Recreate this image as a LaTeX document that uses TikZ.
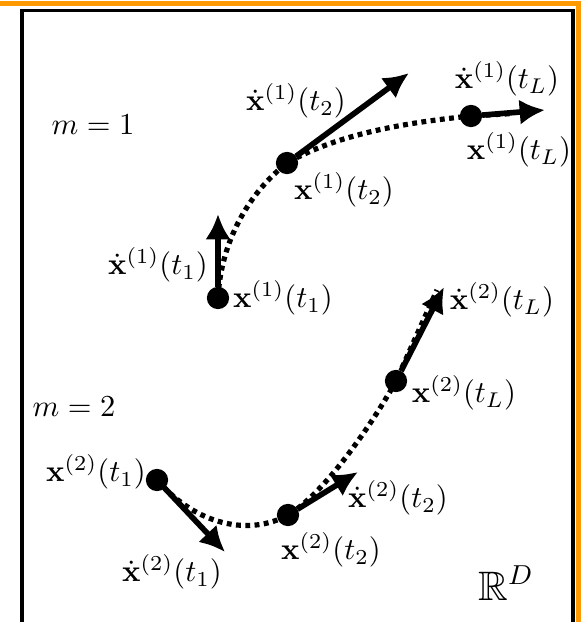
\documentclass[tikz,border=0pt]{standalone}
\usepackage{amsmath,amssymb}
\usetikzlibrary{positioning,arrows.meta}
\definecolor{frameorange}{RGB}{255,153,0}
\def\bx{\mathbf x}
\def\dbx{\dot{\mathbf x}}
\tikzset{bdot/.style={draw,circle,fill=black,minimum size=6.9pt,inner sep=0pt}  }
\tikzset{vel/.style={-{Latex[length=8.3pt,width=8.3pt]},line width=1.85pt}  }
\tikzset{traj/.style={line width=1.7pt,dash pattern=on 1.6pt off 1.45pt}  }

\begin{document}
\begin{tikzpicture}[x=0.328pt,y=-0.328pt]
	\useasboundingbox (0,0) rectangle (581,622);
	\draw[frameorange,line width=1.5pt] (0,3.5) -- (578.5,3.5) -- (578.5,630);
	\draw[line width=1.1pt] (22,630) -- (22,10.5) -- (573,10.5) -- (573,630);

		% m = 1
		\coordinate[bdot] (x11) at (218,298);
		\coordinate[bdot] (x12) at (287,163);
		\coordinate[bdot] (x13) at (471,116);
		\coordinate (v11) at (218,214);
		\coordinate (v12) at (409,73);
		\coordinate (v13) at (545,110);

			\draw[traj] (x11.center) .. controls (221,240) and (250,192) .. (x12.center)
				.. controls (339,133) and (411,122) .. (x13.center) -- (513,113.5);
			\draw[vel] (x11) -- (v11);
			\draw[vel] (x12) -- (v12);
			\draw[vel] (x13) -- (v13);

				\node (m1) at (93,125) {$m=1$};
				\node (lx11) at (283,298) {$\bx^{(1)}(t_1)$};
				\node (lv11) at (158,265) {$\dbx^{(1)}(t_1)$};
				\node (lx12) at (344,190) {$\bx^{(1)}(t_2)$};
				\node (lv12) at (296,101) {$\dbx^{(1)}(t_2)$};
				\node (lx13) at (519,150) {$\bx^{(1)}(t_L)$};
				\node (lv13) at (507,79) {$\dbx^{(1)}(t_L)$};

		% m = 2
		\coordinate[bdot] (x21) at (157,480);
		\coordinate[bdot] (x22) at (288,515);
		\coordinate[bdot] (x23) at (396,381);
		\coordinate (v21) at (225,552);
		\coordinate (v22) at (358,472);
		\coordinate (v23) at (444,287);

			\draw[traj] (x21.center) .. controls (197,526) and (250,536) .. (x22.center)
				.. controls (327,492) and (377,416) .. (x23.center) -- (437,290);
			\draw[vel] (x21) -- (v21);
			\draw[vel] (x22) -- (v22);
			\draw[vel] (x23) -- (v23);

				\node (m2) at (74,407) {$m=2$};
				\node (lx21) at (96,472) {$\bx^{(2)}(t_1)$};
				\node (lv21) at (172,572) {$\dbx^{(2)}(t_1)$};
				\node (lx22) at (331,550) {$\bx^{(2)}(t_2)$};
				\node (lv22) at (398,498) {$\dbx^{(2)}(t_2)$};
				\node (lx23) at (464,393) {$\bx^{(2)}(t_L)$};
				\node (lv23) at (502,300) {$\dbx^{(2)}(t_L)$};

				\node (space) at (506,583) {\fontsize{13.5pt}{16pt}\selectfont$\mathbb{R}^D$};
\end{tikzpicture}
\end{document}
